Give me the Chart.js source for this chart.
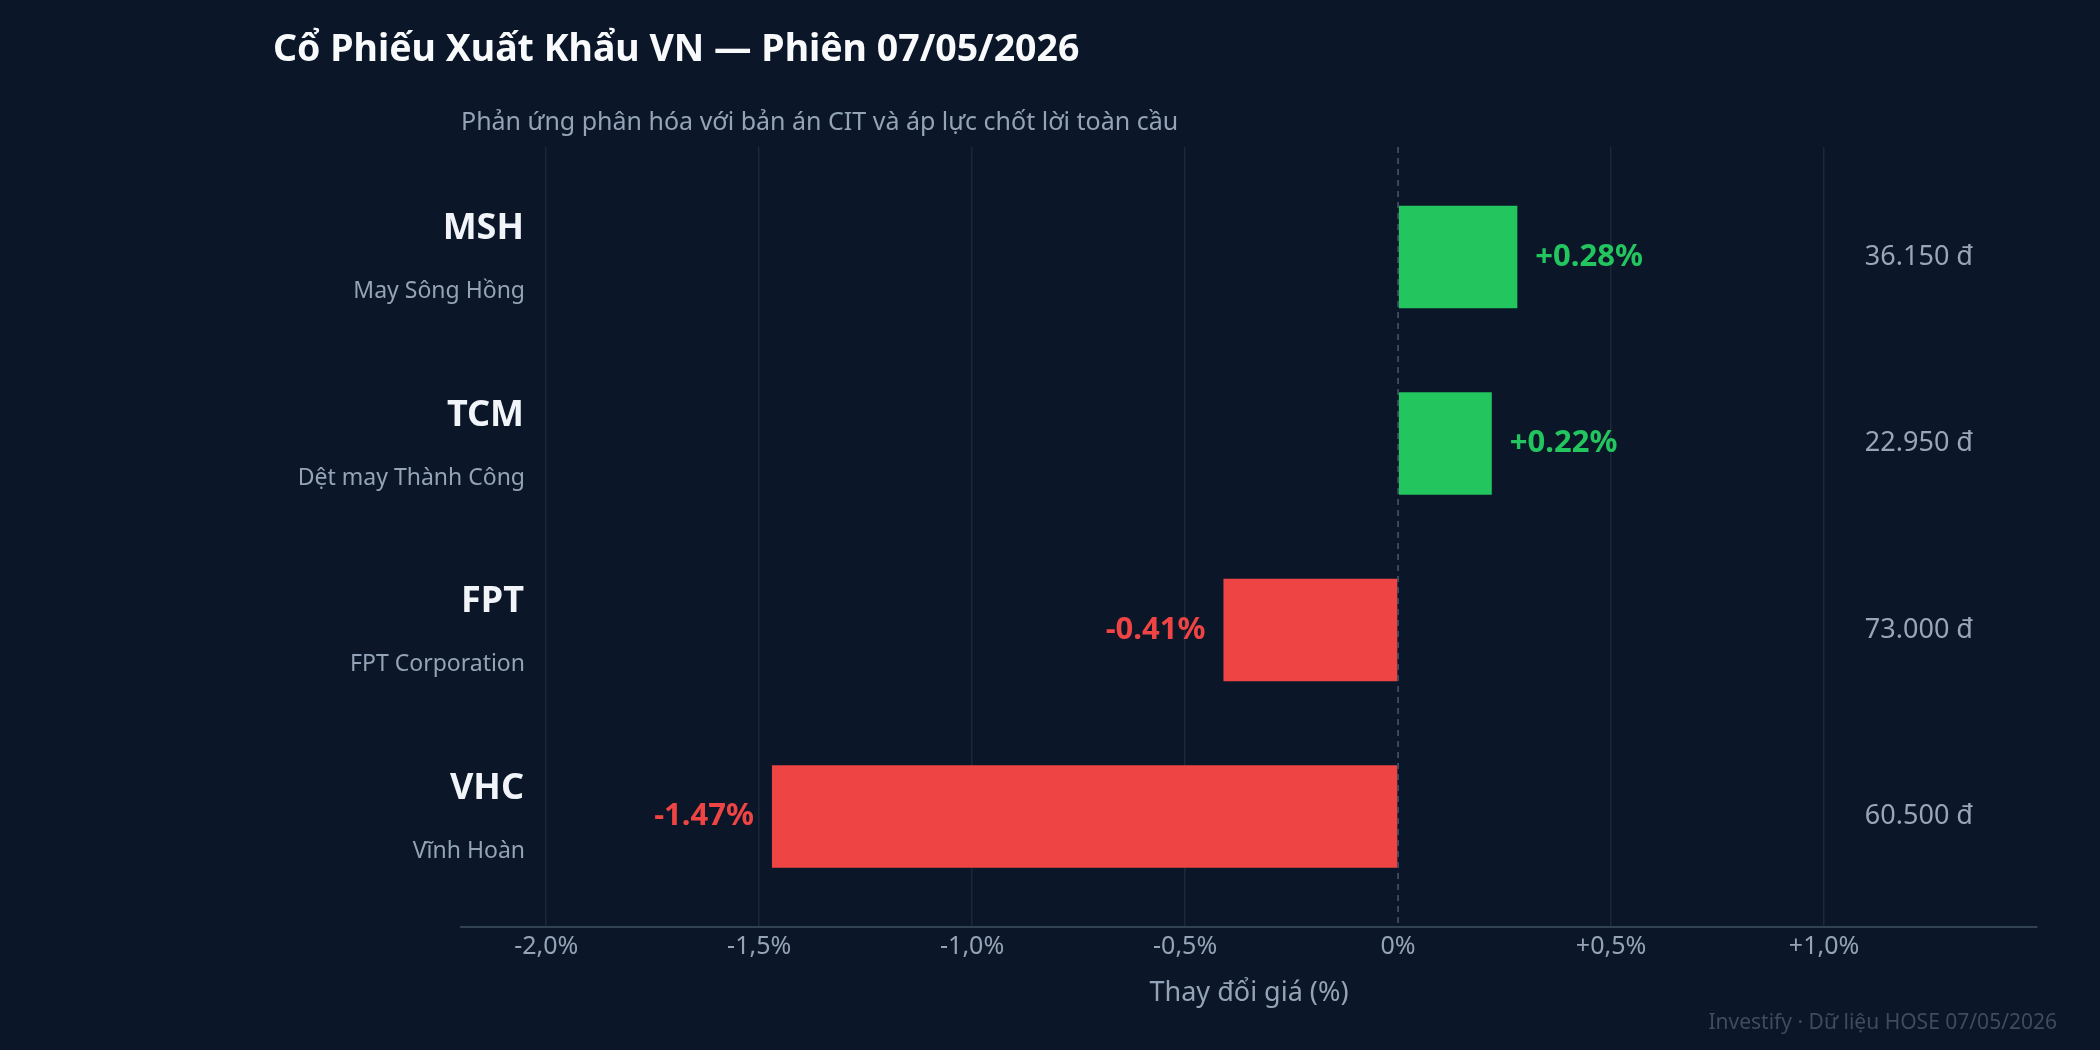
<!DOCTYPE html>
<html lang="vi">
<head>
<meta charset="utf-8">
<title>Cổ Phiếu Xuất Khẩu VN</title>
<script src="https://cdn.jsdelivr.net/npm/chart.js@4.4.1/dist/chart.umd.min.js"></script>
<style>
  html, body { margin: 0; padding: 0; background: #0b1628; }
  #wrap { width: 2100px; height: 1050px; }
</style>
</head>
<body>
<div id="wrap"><canvas id="myChart" width="2100" height="1050"></canvas></div>
<script>
// du lieu phien 07/05/2026
const tickers = ['MSH', 'TCM', 'FPT', 'VHC'];
const companyNames = ['May Sông Hồng', 'Dệt may Thành Công', 'FPT Corporation', 'Vĩnh Hoàn'];
const changes = [0.28, 0.22, -0.41, -1.47];
const prices = ['36.150 đ', '22.950 đ', '73.000 đ', '60.500 đ'];
const tickValues = [-2.0, -1.5, -1.0, -0.5, 0, 0.5, 1.0];
const tickLabels = ['-2,0%', '-1,5%', '-1,0%', '-0,5%', '0%', '+0,5%', '+1,0%'];

const GREEN = '#22c55e';
const RED = '#ef4444';
const BG = '#0b1628';

Chart.defaults.font.family = "'Noto Sans', sans-serif";

function fmtChange(v) {
    return (v > 0 ? '+' : '') + v.toFixed(2) + '%';
}

// ve nen, duong 0, nhan gia tri, ma CK, gia
const labelPlugin = {
    id: 'labelPlugin',
    beforeDraw(chart) {
        const ctx = chart.ctx;
        ctx.save();
        ctx.fillStyle = BG;
        ctx.fillRect(0, 0, chart.width, chart.height);
        ctx.restore();
    },
    afterDatasetsDraw(chart) {
        const ctx = chart.ctx;
        const area = chart.chartArea;
        const xScale = chart.scales.x;
        const x0 = xScale.getPixelForValue(0);

        ctx.save();
        ctx.strokeStyle = '#4b5a70';
        ctx.lineWidth = 1.5;
        ctx.setLineDash([6, 5]);
        ctx.beginPath();
        ctx.moveTo(x0, area.top);
        ctx.lineTo(x0, area.bottom);
        ctx.stroke();
        ctx.setLineDash([]);

        const bars = chart.getDatasetMeta(0).data;
        bars.forEach((bar, i) => {
            const v = changes[i];
            ctx.font = "bold 31px 'Noto Sans'";
            ctx.fillStyle = v >= 0 ? GREEN : RED;
            ctx.textBaseline = 'middle';
            if (v >= 0) {
                ctx.textAlign = 'left';
                ctx.fillText(fmtChange(v), bar.x + 18, bar.y);
            } else {
                ctx.textAlign = 'right';
                ctx.fillText(fmtChange(v), bar.x - 18, bar.y);
            }

            ctx.textAlign = 'right';
            ctx.textBaseline = 'alphabetic';
            ctx.fillStyle = '#f1f5f9';
            ctx.font = "bold 36px 'Noto Sans'";
            ctx.fillText(tickers[i], area.left + 63, bar.y - 18);
            ctx.fillStyle = '#94a3b8';
            ctx.font = "23px 'Noto Sans'";
            ctx.fillText(companyNames[i], area.left + 64, bar.y + 41);

            ctx.fillStyle = '#9aa5b5';
            ctx.font = "27px 'Noto Sans'";
            ctx.textBaseline = 'middle';
            ctx.fillText(prices[i], area.right - 64, bar.y);
        });

        ctx.fillStyle = '#3f4b5e';
        ctx.font = "21px 'Noto Sans'";
        ctx.textAlign = 'right';
        ctx.textBaseline = 'alphabetic';
        ctx.fillText('Investify · Dữ liệu HOSE 07/05/2026', 2057, 1029);
        ctx.restore();
    }
};

let ctx = document.getElementById('myChart').getContext('2d');

let myChart = new Chart(ctx, {
    type: 'bar',
    data: {
        datasets: [{
            label: 'Thay đổi giá (%)',
            data: changes.map((v, i) => ({ x: v, y: i })),
            backgroundColor: changes.map(v => v >= 0 ? GREEN : RED),
            borderWidth: 0,
            barPercentage: 0.55,
            categoryPercentage: 1
        }]
    },
    options: {
        indexAxis: 'y',
        responsive: false,
        animation: false,
        devicePixelRatio: 1,
        layout: {
            padding: { left: 273, right: 63, top: 0, bottom: 40 }
        },
        scales: {
            x: {
                type: 'linear',
                min: -2.2,
                max: 1.5,
                afterBuildTicks(scale) {
                    scale.ticks = tickValues.map(v => ({ value: v }));
                },
                ticks: {
                    color: '#94a3b8',
                    font: { size: 25 },
                    padding: 5,
                    autoSkip: false,
                    maxRotation: 0,
                    callback: (value, index) => tickLabels[index]
                },
                grid: {
                    color: c => (c.tick && c.tick.value === 0) ? 'rgba(0,0,0,0)' : '#1c2838',
                    lineWidth: 1.5,
                    drawTicks: false
                },
                border: { color: '#334155', width: 2 },
                title: {
                    display: true,
                    text: 'Thay đổi giá (%)',
                    color: '#94a3b8',
                    font: { size: 27 },
                    padding: { top: 11, bottom: 0 }
                }
            },
            y: {
                type: 'linear',
                min: -0.59,
                max: 3.59,
                reverse: true,
                offset: false,
                afterBuildTicks(scale) {
                    scale.ticks = tickers.map((t, i) => ({ value: i }));
                },
                grid: { display: false },
                border: { display: false },
                ticks: { display: false },
                afterFit(scale) {
                    scale.width = 188;
                }
            }
        },
        plugins: {
            legend: { display: false },
            tooltip: { enabled: false },
            title: {
                display: true,
                text: 'Cổ Phiếu Xuất Khẩu VN — Phiên 07/05/2026',
                align: 'start',
                color: '#f8fafc',
                font: { size: 37.5, weight: 'bold' },
                padding: { top: 28, bottom: 0 }
            },
            subtitle: {
                display: true,
                fullSize: false,
                text: 'Phản ứng phân hóa với bản án CIT và áp lực chốt lời toàn cầu',
                align: 'start',
                color: '#94a3b8',
                font: { size: 25 },
                padding: { top: 35, bottom: 9 }
            }
        }
    },
    plugins: [labelPlugin]
});
</script>
</body>
</html>
